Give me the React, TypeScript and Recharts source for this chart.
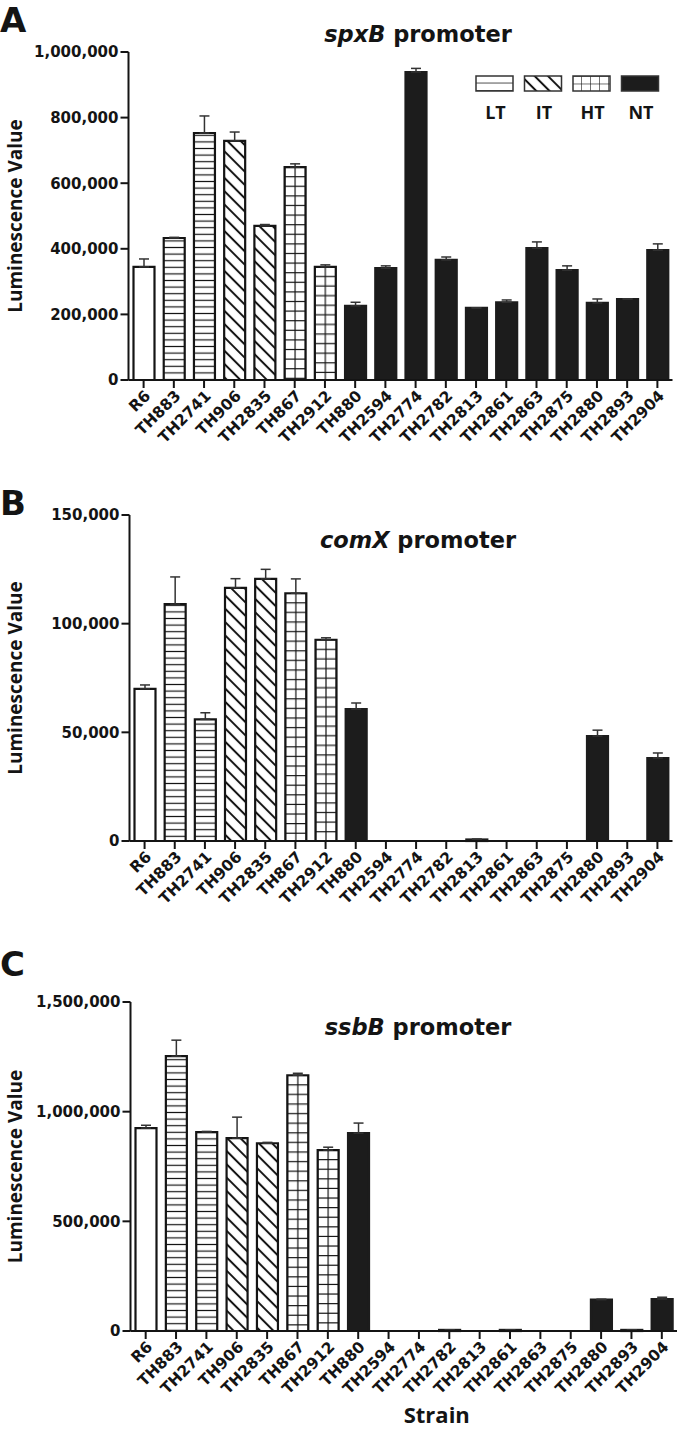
import React from "react";
import { BarChart, Bar, XAxis, YAxis, ErrorBar, Cell, Label } from "recharts";

// ---- data ----
const strains = [
  "R6", "TH883", "TH2741", "TH906", "TH2835", "TH867", "TH2912", "TH880", "TH2594",
  "TH2774", "TH2782", "TH2813", "TH2861", "TH2863", "TH2875", "TH2880", "TH2893", "TH2904",
];
const groups = [
  "WT", "LT", "LT", "IT", "IT", "HT", "HT", "NT", "NT",
  "NT", "NT", "NT", "NT", "NT", "NT", "NT", "NT", "NT",
];

const spxB = [345000, 433000, 753000, 729000, 470000, 649000, 345000, 226000, 341000, 939000, 366000, 220000, 237000, 402000, 335000, 235000, 247000, 396000];
const spxBErr = [24000, 2000, 52000, 27000, 4000, 10000, 6000, 11000, 7000, 11000, 9000, 0, 7000, 19000, 13000, 12000, 0, 19000];

const comX = [70000, 109000, 56000, 116500, 120600, 114000, 92600, 60700, 0, 0, 0, 700, 0, 0, 0, 48300, 0, 38200];
const comXErr = [1800, 12500, 3000, 4200, 4400, 6600, 900, 2800, 0, 0, 0, 200, 0, 0, 0, 2700, 0, 2300];

const ssbB = [925000, 1253000, 907000, 879000, 856000, 1166000, 825000, 902000, 0, 0, 5000, 0, 5000, 0, 0, 143000, 5000, 146000];
const ssbBErr = [13000, 73000, 3000, 96000, 4000, 9000, 13000, 46000, 0, 0, 0, 0, 0, 0, 0, 2000, 0, 8000];

const spxBTicks = [0, 200000, 400000, 600000, 800000, 1000000];
const comXTicks = [0, 50000, 100000, 150000];
const ssbBTicks = [0, 500000, 1000000, 1500000];

const legendItems = ["LT", "IT", "HT", "NT"];

// ---- styling ----
const INK = "#141414";
const FILLS: Record<string, string> = {
  WT: "#ffffff",
  LT: "url(#pat-lt)",
  IT: "url(#pat-it)",
  HT: "url(#pat-ht)",
  NT: "#1c1c1c",
};
const TICK_FONT = "'DejaVu Sans', sans-serif";
const LABEL_FONT = "'Open Sans', sans-serif";

const fmt = (v: number) => v.toLocaleString("en-US");

// horizontal lines for the grid pattern, relative to each bar's top
const gridRows = Array.from({ length: 48 }, (_, k) => k * 9.6);

interface PanelProps {
  values: number[];
  errors: number[];
  ticks: number[];
  height: number;
  marginTop: number;
  left: number;
  right: number;
  xAxisHeight: number;
  showStrain?: boolean;
}

const Panel = ({ values, errors, ticks, height, marginTop, left, right, xAxisHeight, showStrain }: PanelProps) => {
  const rows = strains.map((s, i) => ({ strain: s, value: values[i], err: [0, errors[i]] }));

  return (
    <BarChart width={680} height={height} data={rows} margin={{ top: marginTop, right, left: 0, bottom: 0 }}>
      <XAxis
        dataKey="strain"
        interval={0}
        height={xAxisHeight}
        angle={-45}
        tick={{ fill: INK, fontSize: 15.5, fontWeight: 700, fontFamily: TICK_FONT, textAnchor: "end" }}
        tickSize={8}
        tickMargin={1}
        axisLine={{ stroke: INK, strokeWidth: 2 }}
        tickLine={{ stroke: INK, strokeWidth: 2 }}
      >
        {showStrain && (
          <Label
            content={({ viewBox }: any) => (
              <text
                x={viewBox.x + viewBox.width / 2 + 33}
                y={viewBox.y + viewBox.height - 7}
                textAnchor="middle"
                fontFamily={LABEL_FONT}
                fontWeight={700}
                fontSize={22}
                fill={INK}
              >
                Strain
              </text>
            )}
          />
        )}
      </XAxis>
      <YAxis
        width={left}
        domain={[0, ticks[ticks.length - 1]]}
        ticks={ticks}
        tickFormatter={fmt}
        tick={{ fill: INK, fontSize: 15, fontWeight: 700, fontFamily: TICK_FONT }}
        tickSize={8}
        tickMargin={2}
        axisLine={{ stroke: INK, strokeWidth: 2 }}
        tickLine={{ stroke: INK, strokeWidth: 2 }}
      >
        <Label
          content={({ viewBox }: any) => {
            const cy = viewBox.y + viewBox.height / 2;
            return (
              <text
                x={14.5}
                y={cy}
                transform={`rotate(-90, 14.5, ${cy})`}
                textAnchor="middle"
                dominantBaseline="central"
                fontFamily={LABEL_FONT}
                fontWeight={700}
                fontSize={19}
                fill={INK}
              >
                Luminescence Value
              </text>
            );
          }}
        />
      </YAxis>
      <Bar dataKey="value" barSize={21} stroke={INK} strokeWidth={2.2} isAnimationActive={false}>
        {rows.map((r, i) => (
          <Cell key={r.strain} fill={FILLS[groups[i]]} stroke={groups[i] === "NT" ? "#1c1c1c" : INK} />
        ))}
        <ErrorBar dataKey="err" direction="y" width={5} stroke="#333" strokeWidth={1.5} />
      </Bar>
    </BarChart>
  );
};

const panels = [
  { key: "A", top: 0, values: spxB, errors: spxBErr, ticks: spxBTicks, height: 470, marginTop: 52, left: 128.5, right: 7.5, xAxisHeight: 90 },
  { key: "B", top: 470, values: comX, errors: comXErr, ticks: comXTicks, height: 461, marginTop: 45, left: 129.5, right: 7.5, xAxisHeight: 90 },
  { key: "C", top: 931, values: ssbB, errors: ssbBErr, ticks: ssbBTicks, height: 499, marginTop: 71, left: 130.5, right: 3, xAxisHeight: 99, showStrain: true },
];

const titles = [
  { gene: "spxB", y: 42 },
  { gene: "comX", y: 548 },
  { gene: "ssbB", y: 1035 },
];
const letters = [
  { text: "A", y: 32 },
  { text: "B", y: 515 },
  { text: "C", y: 976 },
];

const legendFills: Record<string, string> = {
  LT: "url(#leg-lt)",
  IT: "url(#pat-it)",
  HT: "url(#leg-ht)",
  NT: "#1c1c1c",
};

export default function App() {
  return (
    <div style={{ position: "absolute", left: 0, top: 0, width: 680, height: 1430, background: "#fff", overflow: "hidden" }}>
      {/* shared hatch patterns */}
      <svg width={0} height={0} style={{ position: "absolute" }}>
        <defs>
          <pattern id="pat-lt" patternUnits="userSpaceOnUse" width={8} height={6.6}>
            <rect width={8} height={6.6} fill="#fff" />
            <line x1={0} y1={3.3} x2={8} y2={3.3} stroke={INK} strokeWidth={1.2} />
          </pattern>
          <pattern id="pat-it" patternUnits="userSpaceOnUse" width={9.4} height={9.4} patternTransform="rotate(-45)">
            <rect width={9.4} height={9.4} fill="#fff" />
            <line x1={4.7} y1={0} x2={4.7} y2={9.4} stroke={INK} strokeWidth={2} />
          </pattern>
          <pattern id="pat-ht" patternUnits="objectBoundingBox" x={0} y={0} width={0.5} height={1}>
            <rect width={20} height={500} fill="#fff" />
            <line x1={0} y1={0} x2={0} y2={500} stroke={INK} strokeWidth={1.2} />
            <line x1={10.5} y1={0} x2={10.5} y2={500} stroke={INK} strokeWidth={1.2} />
            {gridRows.map((y) => (
              <line key={y} x1={0} y1={y} x2={20} y2={y} stroke={INK} strokeWidth={1.2} />
            ))}
          </pattern>
          <pattern id="leg-lt" patternUnits="userSpaceOnUse" x={0} y={76} width={10} height={7.5}>
            <rect width={10} height={7.5} fill="#fff" />
            <line x1={0} y1={7.5} x2={10} y2={7.5} stroke={INK} strokeWidth={1.5} />
          </pattern>
          <pattern id="leg-ht" patternUnits="userSpaceOnUse" x={572} y={76} width={9} height={7.5}>
            <rect width={9} height={7.5} fill="#fff" />
            <line x1={0} y1={0} x2={0} y2={7.5} stroke={INK} strokeWidth={1.2} />
            <line x1={0} y1={0} x2={9} y2={0} stroke={INK} strokeWidth={1.2} />
          </pattern>
        </defs>
      </svg>

      {panels.map(({ key, top, ...rest }) => (
        <div key={key} style={{ position: "absolute", left: 0, top }}>
          <Panel {...rest} />
        </div>
      ))}

      {/* panel letters, titles and legend */}
      <svg width={680} height={1430} style={{ position: "absolute", left: 0, top: 0, pointerEvents: "none" }}>
        {letters.map((l) => (
          <text key={l.text} x={0} y={l.y} fontFamily={TICK_FONT} fontWeight={700} fontSize={34} fill={INK}>
            {l.text}
          </text>
        ))}
        {titles.map((t) => (
          <text key={t.gene} x={418} y={t.y} textAnchor="middle" fontFamily={TICK_FONT} fontWeight={700} fontSize={22.5} fill={INK}>
            <tspan fontStyle="italic">{t.gene}</tspan> promoter
          </text>
        ))}
        {legendItems.map((item, i) => {
          const x = 476 + i * 48.5;
          return (
            <g key={item}>
              <rect x={x} y={76} width={37} height={15} fill={legendFills[item]} stroke="#333" strokeWidth={1.5} />
              <text
                x={x + 19.5}
                y={119}
                textAnchor="middle"
                fontFamily={LABEL_FONT}
                fontWeight={700}
                fontSize={18}
                fill={INK}
              >
                {item}
              </text>
            </g>
          );
        })}
      </svg>
    </div>
  );
}
